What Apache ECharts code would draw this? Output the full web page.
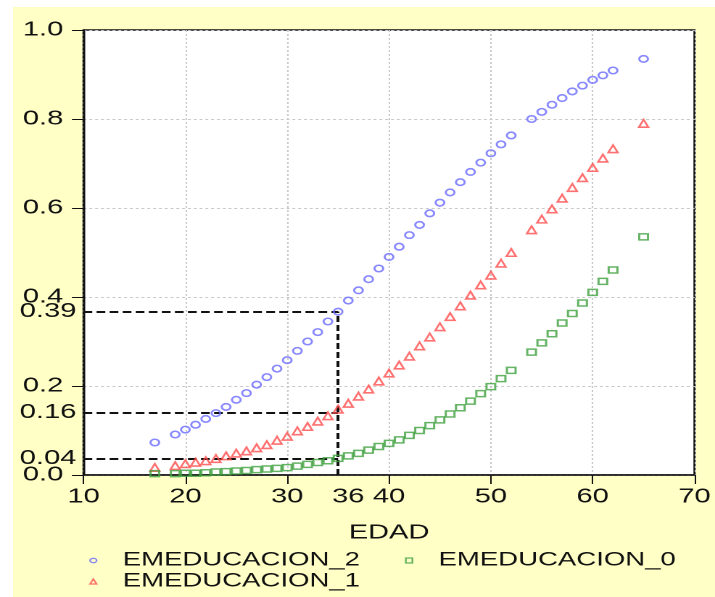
<!DOCTYPE html>
<html>
<head>
<meta charset="utf-8">
<script src="https://cdn.jsdelivr.net/npm/echarts@6/dist/echarts.min.js"></script>
<style>
html,body{margin:0;padding:0;background:#fff;overflow:hidden;}
#c{position:absolute;left:0;top:0;width:493px;height:597px;transform:scaleX(1.4503);transform-origin:0 0;}
</style>
</head>
<body>
<div id="c"></div>
<script>
// ---- data ----
var ages = [17,19,20,21,22,23,24,25,26,27,28,29,30,31,32,33,34,35,36,37,38,39,40,41,42,43,44,45,46,47,48,49,50,51,52,54,55,56,57,58,59,60,61,62,65];
var edu2 = [0.073,0.091,0.102,0.113,0.126,0.139,0.153,0.169,0.184,0.203,0.220,0.239,0.258,0.279,0.300,0.321,0.345,0.367,0.392,0.415,0.440,0.464,0.490,0.513,0.539,0.562,0.588,0.612,0.635,0.658,0.681,0.702,0.723,0.743,0.763,0.800,0.816,0.832,0.847,0.862,0.875,0.888,0.898,0.909,0.935];
var edu1 = [0.017,0.021,0.0255,0.0285,0.032,0.037,0.043,0.049,0.054,0.061,0.068,0.078,0.087,0.099,0.109,0.121,0.133,0.148,0.161,0.177,0.193,0.211,0.229,0.247,0.267,0.290,0.310,0.333,0.356,0.380,0.404,0.427,0.449,0.476,0.500,0.551,0.575,0.598,0.622,0.646,0.668,0.691,0.712,0.733,0.790];
var edu0 = [0.003,0.003,0.004,0.004,0.005,0.0067,0.0075,0.009,0.010,0.012,0.0135,0.015,0.0165,0.020,0.024,0.028,0.032,0.0375,0.043,0.0485,0.056,0.064,0.071,0.079,0.089,0.100,0.111,0.124,0.137,0.151,0.166,0.183,0.1985,0.2165,0.235,0.276,0.297,0.3175,0.3415,0.363,0.3865,0.4105,0.435,0.4607,0.535];
var seriesNames = ['EMEDUCACION_2','EMEDUCACION_1','EMEDUCACION_0'];
var xTickValues = [10,20,30,40,50,60,70];
var xLabelValues = [10,20,30,36,40,50,60,70];
var yTickValues = [0,0.2,0.4,0.6,0.8,1.0];
var refAge = 35;
var refLevels = [0.367,0.141,0.0375];
var refLabels = ['0.39','0.16','0.04'];
var xName = 'EDAD';

function pairs(xs, ys){ return xs.map(function(x,i){ return [x, ys[i]]; }); }

var FONT = '"Liberation Sans", Arial, sans-serif';
var chart = echarts.init(document.getElementById('c'), null, {renderer:'canvas', devicePixelRatio:2});

var markData = refLevels.map(function(v,i){
  return [{coord:[10, v], label:{formatter: refLabels[i]}}, {coord:[refAge, v]}];
});
markData.push([{coord:[refAge, 0], label:{show:false}}, {coord:[refAge, refLevels[0]]}]);

var colors = ['#6a6aff','#ff4d4d','#3fa03f'];
var symbols = ['circle','triangle','rect'];
var sizes = [[6,6.5],[6.5,7.5],[6,6]];
var datas = [edu2, edu1, edu0];

var series = seriesNames.map(function(n,i){
  var s = {
    name:n, type:'scatter', data: pairs(ages, datas[i]),
    symbol: symbols[i], symbolSize: sizes[i],
    itemStyle:{color:'rgba(0,0,0,0)', borderColor:colors[i], borderWidth:1.5},
    z: 5
  };
  if(i===0){
    s.markLine = {
      silent:true, symbol:['none','none'], animation:false,
      lineStyle:{color:'#111', type:[6,3], width:2},
      label:{show:true, position:'start', distance:5, fontSize:20, fontFamily:FONT, color:'#111'},
      emphasis:{disabled:true},
      data: markData
    };
  }
  return s;
});

function legendItem(name){
  var i = seriesNames.indexOf(name);
  return {name:name, icon:symbols[i], itemStyle:{color:'rgba(0,0,0,0)', borderColor:colors[i], borderWidth:1.2}};
}
var legendText = {fontSize:19, fontFamily:FONT, color:'#111', padding:[0,0,0,13]};

chart.setOption({
  animation:false,
  backgroundColor:'#fff',
  graphic:[{type:'rect', silent:true, z:-100, shape:{x:9,y:7,width:484,height:590}, style:{fill:'#FFFFC6'}}],
  grid:{left:57.6, right:12, top:30, bottom:122, show:true, backgroundColor:'#fff', borderColor:'#111', borderWidth:1.5},
  xAxis:{
    type:'value', min:10, max:70, interval:10,
    name:xName, nameLocation:'middle', nameGap:48,
    nameTextStyle:{fontSize:20, fontFamily:FONT, color:'#111'},
    axisLine:{lineStyle:{color:'#111', width:1.5}},
    axisTick:{show:true, length:9, customValues:xTickValues, lineStyle:{color:'#111', width:1}},
    axisLabel:{customValues:xLabelValues, margin:12, fontSize:20, fontFamily:FONT, color:'#111'},
    splitLine:{show:true, lineStyle:{color:'#c8c8c8', type:[2,2], width:1}}
  },
  yAxis:{
    type:'value', min:0, max:1, interval:0.2,
    axisLine:{show:true, lineStyle:{color:'#111', width:1.5}},
    axisTick:{show:true, length:8, customValues:yTickValues, lineStyle:{color:'#111', width:1}},
    axisLabel:{customValues:yTickValues, margin:14, fontSize:20, fontFamily:FONT, color:'#111',
      formatter:function(v){ return v.toFixed(1); }},
    splitLine:{show:true, lineStyle:{color:'#c8c8c8', type:[2,2], width:1}}
  },
  legend:[
    {data:[legendItem('EMEDUCACION_2'), legendItem('EMEDUCACION_0')], left:61.5, top:551, padding:0, itemWidth:4.5, itemHeight:5, itemGap:31,
     textStyle:legendText},
    {data:[legendItem('EMEDUCACION_1')], left:61.5, top:572, padding:0, itemWidth:4.5, itemHeight:5,
     textStyle:legendText}
  ],
  series: series
});
</script>
</body>
</html>
